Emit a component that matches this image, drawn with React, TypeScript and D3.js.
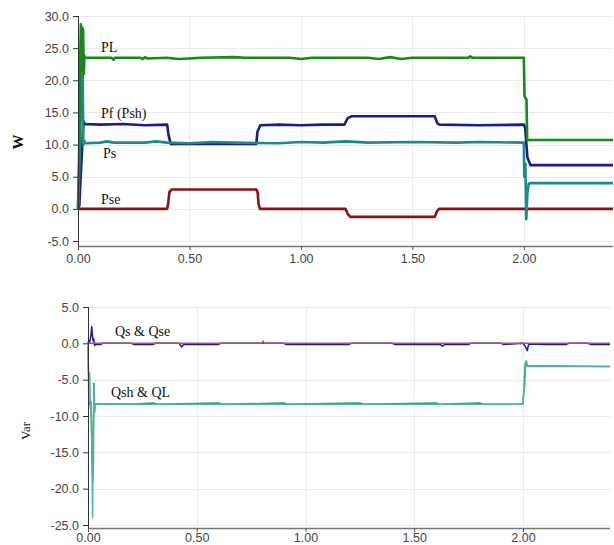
import { useEffect, useRef } from "react";
import * as d3 from "d3";

type Pt = [number, number];

// time (s) vs value
const plData: Pt[] = [
  [0, 0], [0.005, 8.5], [0.009, 22], [0.013, 28.7], [0.016, 21.5], [0.019, 28.2], [0.023, 27.8],
  [0.026, 21], [0.029, 23.8], [0.033, 23.5], [0.15, 23.5], [0.16, 23.2], [0.165, 23.5], [0.28, 23.5],
  [0.29, 23.3], [0.3, 23.6], [0.31, 23.4], [0.4, 23.5], [0.45, 23.3], [0.5, 23.4], [0.55, 23.5],
  [0.7, 23.6], [0.75, 23.5], [0.95, 23.5], [1.0, 23.3], [1.05, 23.5], [1.3, 23.5], [1.35, 23.3],
  [1.4, 23.6], [1.45, 23.3], [1.5, 23.5], [1.75, 23.5], [1.76, 23.7], [1.77, 23.5], [2.0, 23.5],
  [2.003, 17.5], [2.012, 17], [2.015, 10.7], [2.4, 10.7],
];

const pfData: Pt[] = [
  [0, 0], [0.006, 0.5], [0.012, 5], [0.018, 9], [0.022, 12], [0.026, 13.6], [0.03, 13.2],
  [0.1, 13.1], [0.2, 13.2], [0.3, 13.0], [0.4, 13.1], [0.406, 11.5], [0.416, 10.1], [0.8, 10.1],
  [0.805, 12], [0.818, 13.0], [0.9, 13.1], [1.0, 13.0], [1.1, 13.1], [1.195, 13.1], [1.21, 14.1],
  [1.226, 14.4], [1.6, 14.4], [1.612, 13.3], [1.622, 13.1], [1.8, 13.0], [2.0, 13.1], [2.006, 12.6],
  [2.016, 8], [2.03, 6.8], [2.4, 6.8],
];

const psData: Pt[] = [
  [0, 0], [0.005, 5], [0.01, 12], [0.015, 21.5], [0.018, 17], [0.021, 21], [0.024, 10], [0.028, 10.6],
  [0.032, 10.2], [0.1, 10.3], [0.13, 10.5], [0.16, 10.3], [0.3, 10.3], [0.35, 10.5], [0.4, 10.3],
  [0.5, 10.2], [0.6, 10.4], [0.7, 10.3], [0.9, 10.2], [1.0, 10.4], [1.1, 10.3], [1.2, 10.5],
  [1.3, 10.3], [1.5, 10.4], [1.7, 10.3], [1.8, 10.4], [2.0, 10.3], [2.002, 5], [2.007, 7],
  [2.011, -1.6], [2.016, 2.5], [2.022, 3.9], [2.03, 4.0], [2.4, 4.0],
];

const pseData: Pt[] = [
  [0, 0], [0.4, 0], [0.405, 1], [0.41, 2.6], [0.42, 3.0], [0.8, 3.0], [0.806, 2.5], [0.81, 0.8],
  [0.816, 0], [1.2, 0], [1.21, -0.8], [1.222, -1.25], [1.6, -1.25], [1.61, -0.4], [1.62, 0], [2.4, 0],
];

const qsData: Pt[] = [
  [0, 0], [0.004, 0.4], [0.008, 0.2], [0.013, 1.0], [0.017, 2.3], [0.02, 1.2], [0.023, 0.4],
  [0.026, 0.6], [0.03, -0.3], [0.035, -0.15], [0.06, -0.15], [0.065, 0], [0.2, 0], [0.21, -0.15],
  [0.3, -0.15], [0.31, 0], [0.42, 0], [0.43, -0.5], [0.44, -0.15], [0.6, -0.15], [0.61, 0],
  [0.9, 0], [0.91, -0.15], [1.2, -0.15], [1.21, 0], [1.4, 0], [1.41, -0.15], [1.62, -0.15],
  [1.63, -0.4], [1.64, -0.15], [1.75, -0.15], [1.76, 0], [1.9, 0], [1.91, -0.15], [2.0, 0],
  [2.01, -0.4], [2.02, -1.0], [2.025, -0.2], [2.03, -0.1], [2.1, -0.15], [2.2, -0.15], [2.21, 0],
  [2.3, 0], [2.31, -0.15], [2.4, -0.15],
];

const qseData: Pt[] = [
  [0, 0], [0.8, 0], [0.805, 0.3], [0.81, 0], [2.4, 0],
];

const qshData: Pt[] = [
  [0, 0], [0.002, -3.8], [0.008, -4.2], [0.011, -9], [0.015, -8], [0.018, -14], [0.021, -24],
  [0.024, -12], [0.028, -6], [0.031, -9.5], [0.035, -8.3], [0.1, -8.4], [2.0, -8.4], [2.004, -6.2],
  [2.008, -6], [2.012, -3], [2.016, -2.4], [2.02, -3.2], [2.4, -3.2],
];

const qlData: Pt[] = [
  [0, -0.5], [0.004, -8], [0.01, -8.5], [0.014, -9], [0.018, -15], [0.022, -19], [0.025, -16],
  [0.027, -5.5], [0.03, -9], [0.033, -8.3], [0.2, -8.4], [0.3, -8.2], [0.32, -8.4], [0.6, -8.2],
  [0.62, -8.4], [0.9, -8.2], [0.92, -8.4], [1.25, -8.2], [1.27, -8.4], [1.6, -8.2], [1.62, -8.4],
  [1.8, -8.2], [1.82, -8.4], [2.0, -8.4], [2.004, -6.5], [2.01, -2.8], [2.014, -2.5], [2.018, -3.1],
  [2.4, -3.2],
];

const xTicks = [0, 0.5, 1, 1.5, 2];
const topYTicks = [-5, 0, 5, 10, 15, 20, 25, 30];
const bottomYTicks = [-25, -20, -15, -10, -5, 0, 5];

interface Series {
  data: Pt[];
  color: string;
}
interface Label {
  text: string;
  x: number;
  y: number;
}
interface PanelProps {
  left: number;
  right: number;
  top: number;
  bottom: number;
  axisGap: number;
  xTickPad: number;
  yDomain: [number, number];
  yTicks: number[];
  title: string;
  titleX: number;
  titleY: number;
  titleSize: number;
  titleWeight: string;
  series: Series[];
  lineWidth: number;
  labels: Label[];
}

const tickFont = "'Liberation Sans', Arial, sans-serif";
const serifFont = "'Liberation Serif', 'Times New Roman', serif";
// plain hyphen for negatives, like the original
const fmt1 = (d: number) => d.toFixed(1);
const fmt2 = (d: number) => d.toFixed(2);

function Panel(p: PanelProps) {
  const ref = useRef<SVGGElement>(null);

  useEffect(() => {
    const g = d3.select(ref.current);
    g.selectAll("*").remove();

    const x = d3.scaleLinear().domain([0, 2.4]).range([p.left, p.right]);
    const y = d3.scaleLinear().domain(p.yDomain).range([p.bottom, p.top]);
    const axisY = p.bottom + p.axisGap;

    // grid
    g.append("g")
      .selectAll("line")
      .data(p.yTicks)
      .join("line")
      .attr("x1", p.left)
      .attr("x2", p.right)
      .attr("y1", (d) => Math.round(y(d)) + 0.5)
      .attr("y2", (d) => Math.round(y(d)) + 0.5)
      .attr("stroke", "#ebebeb");
    g.append("g")
      .selectAll("line")
      .data(xTicks.slice(1))
      .join("line")
      .attr("x1", (d) => Math.round(x(d)) + 0.5)
      .attr("x2", (d) => Math.round(x(d)) + 0.5)
      .attr("y1", p.top)
      .attr("y2", p.bottom)
      .attr("stroke", "#ebebeb");

    // lines
    const line = d3
      .line<Pt>()
      .x((d) => x(d[0]))
      .y((d) => y(d[1]));
    p.series.forEach((s) => {
      g.append("path")
        .attr("d", line(s.data))
        .attr("fill", "none")
        .attr("stroke", s.color)
        .attr("stroke-width", p.lineWidth)
        .attr("stroke-linejoin", "round");
    });

    // y axis
    const ya = g
      .append("g")
      .attr("transform", `translate(${p.left},0)`)
      .call(d3.axisLeft(y).tickValues(p.yTicks).tickFormat(fmt1 as any).tickSize(5).tickPadding(4));
    ya.select(".domain").attr("d", `M0.5,${p.top}V${axisY}`).attr("stroke", "#333");
    ya.selectAll(".tick line").attr("stroke", "#333");
    ya.selectAll("text").attr("fill", "#444").style("font-family", tickFont).style("font-size", "12.5px");

    // x axis
    const xa = g
      .append("g")
      .attr("transform", `translate(0,${axisY})`)
      .call(d3.axisBottom(x).tickValues(xTicks).tickFormat(fmt2 as any).tickSize(4).tickPadding(p.xTickPad));
    xa.select(".domain").attr("d", `M${p.left},0.5H${p.right}`).attr("stroke", "#777").attr("stroke-width", 1.5);
    xa.selectAll(".tick line").attr("stroke", "#555");
    xa.selectAll("text").attr("fill", "#444").style("font-family", tickFont).style("font-size", "12.5px");

    // series labels
    g.append("g")
      .selectAll("text")
      .data(p.labels)
      .join("text")
      .attr("x", (d) => d.x)
      .attr("y", (d) => d.y)
      .attr("fill", "#111")
      .style("font-family", serifFont)
      .style("font-size", "14px")
      .text((d) => d.text);

    g.append("text")
      .attr("transform", `translate(${p.titleX},${p.titleY}) rotate(-90)`)
      .attr("text-anchor", "middle")
      .attr("fill", "#111")
      .style("font-family", serifFont)
      .style("font-size", `${p.titleSize}px`)
      .style("font-weight", p.titleWeight)
      .text(p.title);
  }, [p]);

  return <g ref={ref} />;
}

export default function App() {
  return (
    <svg
      width={614}
      height={545}
      style={{ position: "absolute", left: 0, top: 0, background: "#fff" }}
    >
      <Panel
        left={78}
        right={613}
        top={16}
        bottom={241}
        axisGap={5}
        xTickPad={4}
        yDomain={[-5, 30]}
        yTicks={topYTicks}
        title="W"
        titleX={23}
        titleY={142}
        titleSize={15}
        titleWeight="bold"
        lineWidth={2.6}
        series={[
          { data: pseData, color: "#8b1212" },
          { data: pfData, color: "#1c1c8e" },
          { data: psData, color: "#178c8c" },
          { data: plData, color: "#168a16" },
        ]}
        labels={[
          { text: "PL", x: 101, y: 52 },
          { text: "Pf (Psh)", x: 101, y: 118 },
          { text: "Ps", x: 103, y: 158 },
          { text: "Pse", x: 101, y: 204 },
        ]}
      />
      <Panel
        left={88}
        right={610}
        top={307}
        bottom={525}
        axisGap={3}
        xTickPad={1}
        yDomain={[-25, 5]}
        yTicks={bottomYTicks}
        title="Var"
        titleX={30}
        titleY={431}
        titleSize={13}
        titleWeight="normal"
        lineWidth={1.5}
        series={[
          { data: qsData, color: "#1a1aa0" },
          { data: qseData, color: "#c05050" },
          { data: qlData, color: "#2a9a3a" },
          { data: qshData, color: "#4db4aa" },
        ]}
        labels={[
          { text: "Qs & Qse", x: 115, y: 336 },
          { text: "Qsh & QL", x: 111, y: 397 },
        ]}
      />
    </svg>
  );
}
